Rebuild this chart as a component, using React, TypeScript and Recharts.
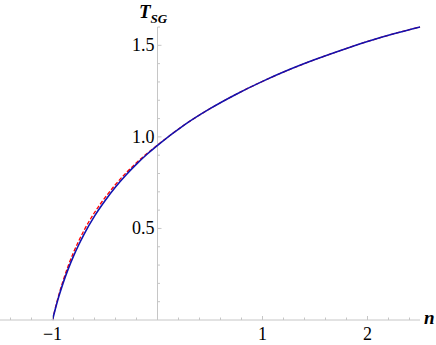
import { LineChart, Line, XAxis, YAxis, ReferenceLine } from 'recharts';

// n values and the two curves
const N = [-1, -0.97, -0.94, -0.9, -0.85, -0.8, -0.75, -0.7, -0.6, -0.5, -0.4, -0.3, -0.2, -0.1, 0, 0.25, 0.5, 0.75, 1, 1.25, 1.5, 1.75, 2, 2.25, 2.5];
const T_BLUE = [0, 0.067, 0.128, 0.2, 0.279, 0.349, 0.411, 0.468, 0.567, 0.651, 0.726, 0.792, 0.851, 0.905, 0.954, 1.063, 1.154, 1.233, 1.303, 1.366, 1.422, 1.473, 1.521, 1.563, 1.6];
const T_RED = [0, 0.072, 0.137, 0.213, 0.296, 0.369, 0.432, 0.489, 0.587, 0.668, 0.74, 0.803, 0.859, 0.909, 0.955, 1.063, 1.154, 1.233, 1.303, 1.366, 1.422, 1.473, 1.521, 1.563, 1.6];

const X_TICKS = [-1.4, -1.2, -1, -0.8, -0.6, -0.4, -0.2, 0.2, 0.4, 0.6, 0.8, 1, 1.2, 1.4, 1.6, 1.8, 2, 2.2, 2.4];
const X_LABELS = [-1, 1, 2];
const Y_TICKS = [0.1, 0.2, 0.3, 0.4, 0.5, 0.6, 0.7, 0.8, 0.9, 1, 1.1, 1.2, 1.3, 1.4, 1.5, 1.6];
const Y_LABELS = [0.5, 1, 1.5];

const X_DOMAIN = [-1.5, 2.5];
const Y_DOMAIN = [0, 1.6];
const W = 436;
const H = 345;
const Y_AXIS_W = 1;
const MARGIN = { top: 27, right: 16, bottom: 0, left: -Y_AXIS_W };
const PLOT_W = W - MARGIN.right;
// pixel offset of n = 0 inside the plot, where the vertical axis sits
const ZERO_X = ((0 - X_DOMAIN[0]) / (X_DOMAIN[1] - X_DOMAIN[0])) * PLOT_W;

const AXIS = '#c6c6c6';
const FONT = 'Liberation Serif, serif';

const data = N.map((n, i) => ({ n, blue: T_BLUE[i], red: T_RED[i] }));

const isMajor = (list: number[], v: number) => list.some((m) => Math.abs(m - v) < 1e-6);

const fmt = (v: number) => (v < 0 ? `\u2212${Math.abs(v)}` : String(v));

const XTick = ({ x, y, payload }: any) => {
  const major = isMajor(X_LABELS, payload.value);
  return (
    <g>
      <line x1={x} x2={x} y1={y} y2={y - (major ? 4 : 2.5)} stroke={AXIS} />
      {major && (
        <text x={x} y={y + 20} textAnchor="middle" fontFamily={FONT} fontSize={18} fill="#000">
          {fmt(payload.value)}
        </text>
      )}
    </g>
  );
};

const YTick = ({ y, payload }: any) => {
  const major = isMajor(Y_LABELS, payload.value);
  const zx = ZERO_X;
  return (
    <g>
      <line x1={zx} x2={zx + (major ? 4 : 2.5)} y1={y} y2={y} stroke={AXIS} />
      {major && (
        <text x={zx - 3} y={y + 6} textAnchor="end" fontFamily={FONT} fontSize={18} fill="#000">
          {payload.value.toFixed(1)}
        </text>
      )}
    </g>
  );
};

export default function App() {
  return (
    <div style={{ position: 'absolute', left: 0, top: 0, width: W, height: H, background: '#fff', fontFamily: FONT }}>
      <LineChart width={W} height={H} data={data} margin={MARGIN}>
        <XAxis
          dataKey="n"
          type="number"
          domain={X_DOMAIN}
          ticks={X_TICKS}
          interval={0}
          height={25}
          axisLine={{ stroke: AXIS }}
          tickLine={false}
          tickSize={0}
          tickMargin={0}
          tick={<XTick />}
        />
        <YAxis
          type="number"
          domain={Y_DOMAIN}
          ticks={Y_TICKS}
          interval={0}
          width={Y_AXIS_W}
          axisLine={false}
          tickLine={false}
          tickSize={0}
          tickMargin={0}
          tick={<YTick />}
        />
        <ReferenceLine x={0} stroke={AXIS} strokeWidth={1} />
        <Line type="monotone" dataKey="red" stroke="#ff0000" strokeWidth={1.3} strokeDasharray="4 2" dot={false} isAnimationActive={false} />
        <Line type="monotone" dataKey="blue" stroke="#1212b0" strokeWidth={1.6} dot={false} isAnimationActive={false} />
      </LineChart>
      <div style={{ position: 'absolute', left: 139, top: 2, fontWeight: 'bold', fontStyle: 'italic', fontSize: 19, lineHeight: 1 }}>
        T<sub style={{ fontSize: 13 }}>SG</sub>
      </div>
      <div style={{ position: 'absolute', left: 424, top: 308, fontWeight: 'bold', fontStyle: 'italic', fontSize: 19, lineHeight: 1 }}>
        n
      </div>
    </div>
  );
}
